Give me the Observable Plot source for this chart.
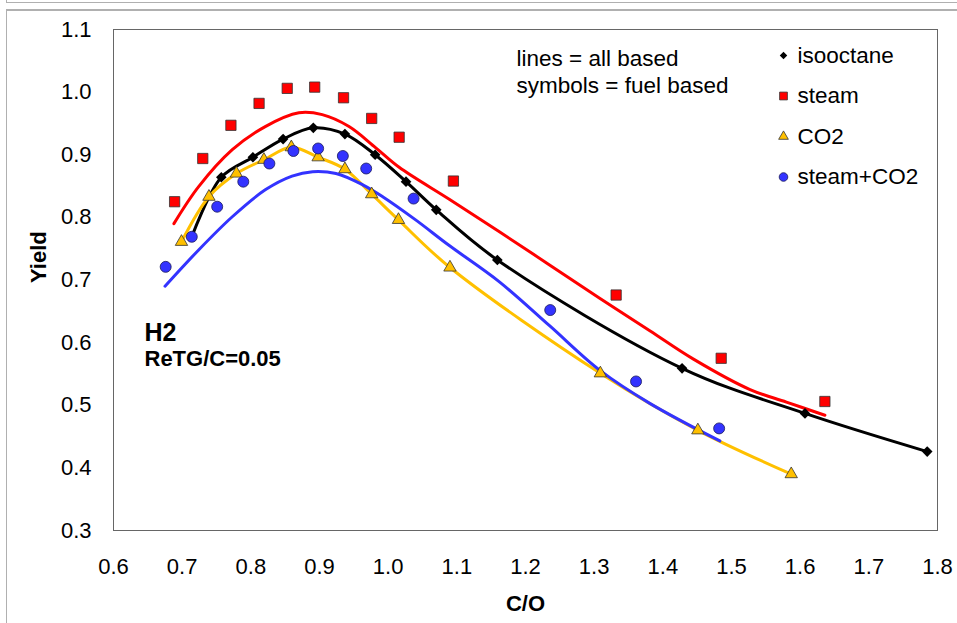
<!DOCTYPE html>
<html><head><meta charset="utf-8">
<script src="https://cdn.jsdelivr.net/npm/d3@7"></script>
<script src="https://cdn.jsdelivr.net/npm/@observablehq/plot@0.6"></script>
<style>
html,body{margin:0;padding:0;background:#fff;overflow:hidden}
#wrap{position:relative;width:957px;height:623px;background:#fff}
.b{position:absolute;box-sizing:border-box;border:1px solid #b0b0b0;pointer-events:none}
</style></head><body>
<div id="wrap"></div>
<script>
// ---- data ----
const xTicks = [0.6,0.7,0.8,0.9,1.0,1.1,1.2,1.3,1.4,1.5,1.6,1.7,1.8];
const yTicks = [0.3,0.4,0.5,0.6,0.7,0.8,0.9,1.0,1.1];

// symbols = fuel based
const isoX   = [0.714,0.757,0.803,0.847,0.891,0.937,0.981,1.026,1.070,1.159,1.428,1.607,1.785];
const isoY   = [0.769,0.864,0.896,0.925,0.943,0.933,0.900,0.857,0.812,0.732,0.559,0.487,0.426];
const steamX = [0.689,0.730,0.771,0.812,0.853,0.893,0.935,0.976,1.016,1.095,1.332,1.485,1.636];
const steamY = [0.825,0.894,0.947,0.982,1.006,1.008,0.991,0.958,0.928,0.858,0.676,0.575,0.506];
const co2X   = [0.699,0.739,0.779,0.819,0.859,0.898,0.937,0.976,1.015,1.090,1.309,1.451,1.587];
const co2Y   = [0.761,0.833,0.870,0.892,0.912,0.896,0.877,0.837,0.796,0.720,0.551,0.460,0.390];
const scX    = [0.676,0.714,0.751,0.789,0.827,0.862,0.898,0.934,0.968,1.037,1.236,1.361,1.482];
const scY    = [0.721,0.769,0.817,0.857,0.886,0.906,0.910,0.898,0.878,0.830,0.652,0.538,0.463];

// lines = all based
const steamLineX = [0.688,0.724,0.773,0.821,0.870,0.904,0.943,0.982,1.016,1.089,1.162,1.235,1.308,1.381,1.444,1.527,1.580,1.636];
const steamLineY = [0.790,0.849,0.908,0.945,0.967,0.964,0.945,0.911,0.880,0.829,0.777,0.724,0.671,0.619,0.574,0.525,0.505,0.484];
const isoLineX = isoX, isoLineY = isoY;
const co2LineX = co2X, co2LineY = co2Y;
const scLineX = [0.675,0.724,0.773,0.821,0.860,0.890,0.924,0.963,0.992,1.040,1.089,1.162,1.235,1.308,1.381,1.483];
const scLineY = [0.690,0.748,0.801,0.844,0.866,0.873,0.870,0.852,0.833,0.796,0.755,0.697,0.627,0.556,0.503,0.443];

const seriesNames = ["isooctane","steam","CO2","steam+CO2"];
const noteLines = ["lines = all based","symbols = fuel based"];
const species = "H2";
const condition = "ReTG/C=0.05";
const xLabel = "C/O", yLabel = "Yield";

// ---- build tables ----
const zip = (xs, ys) => xs.map((x, i) => ({x, y: ys[i]}));
const iso = zip(isoX, isoY), steam = zip(steamX, steamY), co2 = zip(co2X, co2Y), sc = zip(scX, scY);
const steamLine = zip(steamLineX, steamLineY), isoLine = zip(isoLineX, isoLineY);
const co2Line = zip(co2LineX, co2LineY), scLine = zip(scLineX, scLineY);

const fam = "'Liberation Sans', Arial, sans-serif";
const RED = "#ff0000", GOLD = "#ffc000", BLUE = "#3333ff", EDGE = "#333";
const styles = [
  {symbol: "diamond2", fill: "#000", stroke: "none", r: 4.8, lr: 3.4},
  {symbol: "square", fill: RED, stroke: EDGE, r: 5.8, lr: 4.4},
  {symbol: "triangle", fill: GOLD, stroke: EDGE, r: 4.6, lr: 3.6},
  {symbol: "circle", fill: BLUE, stroke: "#1a1a5a", r: 5.5, lr: 4.3}
];
const tables = [iso, steam, co2, sc];

const lineOpt = (stroke) => ({x: "x", y: "y", stroke, strokeWidth: 3, curve: "catmull-rom"});
const txt = (o) => ({lineAnchor: "middle", ...o});

const marks = [
  Plot.frame({stroke: "#666", strokeWidth: 1}),
  Plot.line(steamLine, lineOpt(RED)),
  Plot.line(isoLine, lineOpt("#000")),
  Plot.line(co2Line, lineOpt(GOLD)),
  Plot.line(scLine, lineOpt(BLUE)),
  ...tables.map((t, i) => Plot.dot(t, {x: "x", y: "y", symbol: styles[i].symbol, r: styles[i].r,
      fill: styles[i].fill, stroke: styles[i].stroke, strokeWidth: 0.8})),
  // legend
  ...seriesNames.map((n, i) => Plot.dot([n], {frameAnchor: "top-left", dx: 670, dy: 26 + i * 40.5,
      symbol: styles[i].symbol, r: styles[i].lr, fill: styles[i].fill, stroke: styles[i].stroke, strokeWidth: 0.8})),
  ...seriesNames.map((n, i) => Plot.text([n], txt({frameAnchor: "top-left", dx: 684, dy: 26 + i * 40.5,
      textAnchor: "start", fontSize: 22.5}))),
  ...noteLines.map((n, i) => Plot.text([n], txt({frameAnchor: "top-left", dx: 403, dy: 29 + i * 27.5,
      textAnchor: "start", fontSize: 22.5}))),
  Plot.text([species], txt({frameAnchor: "top-left", dx: 31, dy: 303, textAnchor: "start", fontSize: 25, fontWeight: "bold"})),
  Plot.text([condition], txt({frameAnchor: "top-left", dx: 31, dy: 329, textAnchor: "start", fontSize: 22, fontWeight: "bold"})),
  Plot.text([yLabel], txt({frameAnchor: "left", dx: -75, dy: 3, rotate: -90, fontSize: 22, fontWeight: "bold"})),
  Plot.text([xLabel], txt({frameAnchor: "bottom", dy: 73, fontSize: 22, fontWeight: "bold"}))
];

const chart = Plot.plot({
  width: 957, height: 623,
  marginLeft: 113, marginRight: 20, marginTop: 29, marginBottom: 93,
  style: {fontFamily: fam, fontSize: "22px", color: "#000", background: "#fff", overflow: "visible"},
  x: {domain: [0.6, 1.8], ticks: xTicks, tickFormat: d3.format(".1f"), tickSize: 0, tickPadding: 28, label: null},
  y: {domain: [0.3, 1.1], ticks: yTicks, tickFormat: d3.format(".1f"), tickSize: 0, tickPadding: 22, label: null},
  marks
});
const wrap = document.getElementById("wrap");
wrap.appendChild(chart);
// outer window frame lines
const b1 = document.createElement("div"); b1.className = "b";
Object.assign(b1.style, {left: "6px", top: "-20px", width: "970px", height: "23px"});
const b2 = document.createElement("div"); b2.className = "b";
Object.assign(b2.style, {left: "6px", top: "9px", width: "970px", height: "640px", borderTopWidth: "2px"});
wrap.appendChild(b1); wrap.appendChild(b2);
</script>
</body></html>
